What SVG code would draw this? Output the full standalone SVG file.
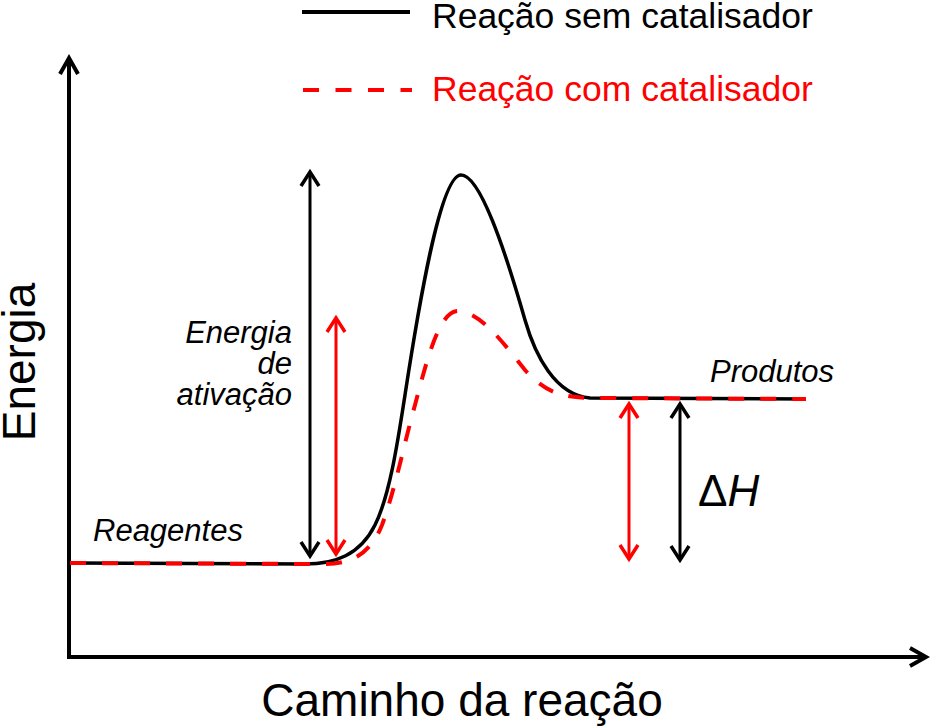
<svg xmlns="http://www.w3.org/2000/svg" width="930" height="727" viewBox="0 0 930 727">
<style>
text{font-family:"Liberation Sans",Arial,sans-serif;}
.lbl{font-size:31px;font-style:italic;fill:#000;}
.big{font-size:46px;fill:#000;}
.leg{font-size:35.5px;}
.ax{stroke:#000;stroke-width:4;fill:none;}
.blk{stroke:#000;stroke-width:3.5;fill:none;}
.red{stroke:#ff0000;stroke-width:4;fill:none;stroke-dasharray:16 16;}
.arB{stroke:#000;stroke-width:3;fill:none;marker-start:url(#hb);marker-end:url(#hb);}
.arR{stroke:#ff0000;stroke-width:3;fill:none;marker-start:url(#hr);marker-end:url(#hr);}
</style>
<defs>
<marker id="ha" markerUnits="userSpaceOnUse" markerWidth="30" markerHeight="30" viewBox="-20 -15 30 30" refX="0" refY="0" orient="auto" overflow="visible">
<path d="M-16,-9 L0,0 L-16,9" fill="none" stroke="#000" stroke-width="4"/>
</marker>
<marker id="hb" markerUnits="userSpaceOnUse" markerWidth="30" markerHeight="30" viewBox="-20 -15 30 30" refX="0" refY="0" orient="auto-start-reverse" overflow="visible">
<path d="M-14,-9 L0,0 L-14,9" fill="none" stroke="#000" stroke-width="3.5"/>
</marker>
<marker id="hr" markerUnits="userSpaceOnUse" markerWidth="30" markerHeight="30" viewBox="-20 -15 30 30" refX="0" refY="0" orient="auto-start-reverse" overflow="visible">
<path d="M-14,-9 L0,0 L-14,9" fill="none" stroke="#ff0000" stroke-width="3.5"/>
</marker>
</defs>
<rect width="930" height="727" fill="#fff"/>

<g id="legend">
<line x1="302" y1="12" x2="410" y2="12" stroke="#000" stroke-width="4"/>
<text class="leg" x="432" y="28" fill="#000">Reação sem catalisador</text>
<line x1="303" y1="90" x2="412" y2="90" stroke="#ff0000" stroke-width="4" stroke-dasharray="16 16.5"/>
<text class="leg" x="432" y="101" fill="#ff0000">Reação com catalisador</text>
</g>

<g id="axes">
<path class="ax" d="M69,658 L69,58" marker-end="url(#ha)"/>
<path class="ax" d="M67,657 L926,657" marker-end="url(#ha)"/>
<text class="big" transform="translate(35,362) rotate(-90)" text-anchor="middle">Energia</text>
<text class="big" x="462" y="716" text-anchor="middle">Caminho da reação</text>
</g>

<g id="curves">
<path id="curve-sem" class="blk" d="M70,563 L305,564 C335,564 360,555 375,525 C390,495 398,440 405,395 C418,310 440,175 461,175 C480,175 505,250 525,320 C535,355 555,395 590,398 L806,399"/>
<path id="curve-com" class="red" d="M70,563 L325,564 C350,564 370,555 382,525 C395,490 405,440 415,405 C428,355 440,311 458,311 C480,311 505,345 525,370 C545,392 560,397 590,398 L806,399"/>
</g>

<g id="arrows">
<line class="arB" x1="310" y1="172" x2="310" y2="556"/>
<line class="arR" x1="336" y1="318" x2="336" y2="554"/>
<line class="arR" x1="629" y1="404" x2="629" y2="559"/>
<line class="arB" x1="680" y1="404" x2="680" y2="560"/>
</g>

<g id="labels">
<text class="lbl" x="292" y="343" text-anchor="end">Energia</text>
<text class="lbl" x="292" y="374" text-anchor="end">de</text>
<text class="lbl" x="292" y="405" text-anchor="end">ativação</text>
<text class="lbl" x="93" y="541">Reagentes</text>
<text class="lbl" x="710" y="382">Produtos</text>
<text x="698" y="506" font-size="44" fill="#000">Δ<tspan font-style="italic">H</tspan></text>
</g>
</svg>
